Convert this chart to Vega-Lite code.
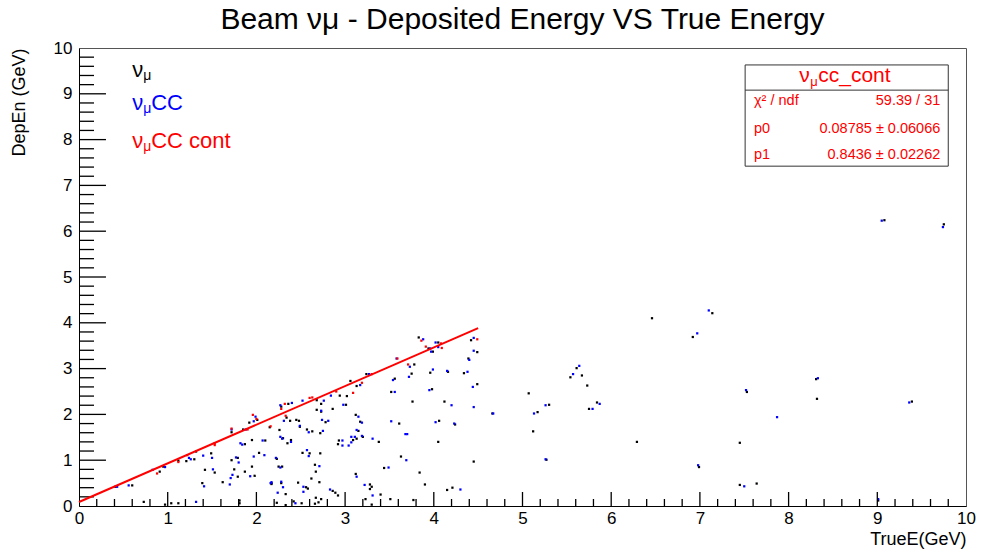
{
  "$schema": "https://vega.github.io/schema/vega-lite/v6.json",
  "width": 887,
  "height": 458,
  "autosize": "none",
  "padding": {"left": 79, "top": 48, "right": 18, "bottom": 46},
  "background": "white",
  "config": {
    "font": "Liberation Sans",
    "view": {"stroke": "#555", "strokeWidth": 1},
    "axis": {"grid": false, "zindex": 1, "labelFont": "Liberation Sans", "titleFont": "Liberation Sans", "titleFontWeight": "normal", "domainColor": "#000", "tickColor": "#000", "labelColor": "#000", "titleColor": "#000"}
  },
  "title": {"text": "Beam νμ - Deposited Energy VS True Energy", "fontSize": 30, "fontWeight": "normal", "font": "Liberation Sans", "anchor": "middle", "frame": "group", "offset": 4, "color": "#000"},
  "datasets": {
    "majt": [{"t":1},{"t":2},{"t":3},{"t":4},{"t":5},{"t":6},{"t":7},{"t":8},{"t":9}],
    "mint": [{"t":0.2},{"t":0.4},{"t":0.6},{"t":0.8},{"t":1.2},{"t":1.4},{"t":1.6},{"t":1.8},{"t":2.2},{"t":2.4},{"t":2.6},{"t":2.8},{"t":3.2},{"t":3.4},{"t":3.6},{"t":3.8},{"t":4.2},{"t":4.4},{"t":4.6},{"t":4.8},{"t":5.2},{"t":5.4},{"t":5.6},{"t":5.8},{"t":6.2},{"t":6.4},{"t":6.6},{"t":6.8},{"t":7.2},{"t":7.4},{"t":7.6},{"t":7.8},{"t":8.2},{"t":8.4},{"t":8.6},{"t":8.8},{"t":9.2},{"t":9.4},{"t":9.6},{"t":9.8}],
    "pts": [
      {"x":4.66,"y":2.02,"s":"νμ"},{"x":5.07,"y":2.46,"s":"νμ"},{"x":5.12,"y":1.63,"s":"νμ"},{"x":5.17,"y":2.05,"s":"νμ"},{"x":5.30,"y":2.21,"s":"νμ"},{"x":5.27,"y":1.01,"s":"νμ"},{"x":5.54,"y":2.81,"s":"νμ"},{"x":5.61,"y":3.01,"s":"νμ"},{"x":5.67,"y":2.85,"s":"νμ"},{"x":5.73,"y":2.63,"s":"νμ"},{"x":5.75,"y":2.12,"s":"νμ"},{"x":5.84,"y":2.26,"s":"νμ"},{"x":6.29,"y":1.40,"s":"νμ"},{"x":6.46,"y":4.10,"s":"νμ"},{"x":6.92,"y":3.69,"s":"νμ"},{"x":7.14,"y":4.21,"s":"νμ"},{"x":6.99,"y":0.85,"s":"νμ"},{"x":9.08,"y":6.24,"s":"νμ"},{"x":9.75,"y":6.15,"s":"νμ"},{"x":7.53,"y":2.49,"s":"νμ"},{"x":8.31,"y":2.77,"s":"νμ"},{"x":8.32,"y":2.34,"s":"νμ"},{"x":9.39,"y":2.28,"s":"νμ"},{"x":7.45,"y":1.38,"s":"νμ"},{"x":7.45,"y":0.46,"s":"νμ"},{"x":7.64,"y":0.49,"s":"νμ"},{"x":9.01,"y":0.12,"s":"νμ"},
      {"x":0.41,"y":0.42,"s":"νμ"},{"x":0.60,"y":0.45,"s":"νμ"},{"x":0.73,"y":0.09,"s":"νμ"},{"x":0.91,"y":0.75,"s":"νμ"},{"x":0.95,"y":0.86,"s":"νμ"},{"x":0.97,"y":0.03,"s":"νμ"},{"x":1.04,"y":0.06,"s":"νμ"},{"x":1.12,"y":0.06,"s":"νμ"},{"x":1.12,"y":0.99,"s":"νμ"},{"x":1.21,"y":0.98,"s":"νμ"},{"x":1.30,"y":1.02,"s":"νμ"},{"x":1.32,"y":1.19,"s":"νμ"},{"x":1.42,"y":0.79,"s":"νμ"},{"x":1.39,"y":0.50,"s":"νμ"},{"x":1.49,"y":1.15,"s":"νμ"},{"x":1.53,"y":0.73,"s":"νμ"},{"x":1.62,"y":0.52,"s":"νμ"},{"x":1.72,"y":1.61,"s":"νμ"},{"x":1.79,"y":1.05,"s":"νμ"},{"x":1.72,"y":1.00,"s":"νμ"},{"x":1.75,"y":0.80,"s":"νμ"},{"x":1.79,"y":0.64,"s":"νμ"},{"x":1.87,"y":1.35,"s":"νμ"},{"x":1.87,"y":0.75,"s":"νμ"},{"x":1.85,"y":1.67,"s":"νμ"},{"x":1.95,"y":1.44,"s":"νμ"},{"x":1.95,"y":0.86,"s":"νμ"},{"x":1.98,"y":0.66,"s":"νμ"},{"x":1.92,"y":1.82,"s":"νμ"},{"x":2.01,"y":1.88,"s":"νμ"},{"x":1.81,"y":0.06,"s":"νμ"},{"x":1.81,"y":0.12,"s":"νμ"},{"x":2.03,"y":1.16,"s":"νμ"},{"x":2.10,"y":1.43,"s":"νμ"},{"x":2.15,"y":1.72,"s":"νμ"},{"x":2.17,"y":0.48,"s":"νμ"},
      {"x":2.28,"y":2.17,"s":"νμ"},{"x":2.36,"y":2.23,"s":"νμ"},{"x":2.34,"y":1.93,"s":"νμ"},{"x":2.38,"y":1.86,"s":"νμ"},{"x":2.45,"y":1.88,"s":"νμ"},{"x":2.48,"y":1.86,"s":"νμ"},{"x":2.49,"y":1.73,"s":"νμ"},{"x":2.26,"y":1.66,"s":"νμ"},{"x":2.30,"y":1.48,"s":"νμ"},{"x":2.35,"y":1.37,"s":"νμ"},{"x":2.39,"y":1.44,"s":"νμ"},{"x":2.23,"y":1.03,"s":"νμ"},{"x":2.25,"y":0.86,"s":"νμ"},{"x":2.29,"y":0.86,"s":"νμ"},{"x":2.17,"y":0.50,"s":"νμ"},{"x":2.28,"y":0.50,"s":"νμ"},{"x":2.33,"y":0.26,"s":"νμ"},{"x":2.23,"y":0.07,"s":"νμ"},{"x":2.33,"y":0.02,"s":"νμ"},{"x":2.42,"y":0.10,"s":"νμ"},{"x":2.51,"y":0.06,"s":"νμ"},{"x":2.47,"y":0.51,"s":"νμ"},{"x":2.56,"y":0.41,"s":"νμ"},{"x":2.58,"y":0.38,"s":"νμ"},{"x":2.52,"y":1.16,"s":"νμ"},{"x":2.60,"y":1.15,"s":"νμ"},{"x":2.57,"y":1.67,"s":"νμ"},{"x":2.63,"y":1.63,"s":"νμ"},{"x":2.68,"y":2.31,"s":"νμ"},{"x":2.73,"y":2.23,"s":"νμ"},{"x":2.68,"y":2.10,"s":"νμ"},{"x":2.73,"y":2.06,"s":"νμ"},{"x":2.86,"y":2.12,"s":"νμ"},{"x":2.94,"y":2.41,"s":"νμ"},{"x":3.01,"y":2.21,"s":"νμ"},{"x":3.02,"y":2.40,"s":"νμ"},{"x":3.06,"y":2.73,"s":"νμ"},{"x":3.13,"y":2.62,"s":"νμ"},{"x":2.78,"y":1.83,"s":"νμ"},{"x":2.72,"y":1.59,"s":"νμ"},{"x":2.66,"y":0.90,"s":"νμ"},{"x":2.71,"y":0.52,"s":"νμ"},{"x":2.72,"y":1.15,"s":"νμ"},{"x":2.67,"y":0.75,"s":"νμ"},{"x":2.62,"y":0.60,"s":"νμ"},{"x":2.67,"y":0.18,"s":"νμ"},{"x":2.66,"y":0.05,"s":"νμ"},{"x":2.70,"y":0.08,"s":"νμ"},{"x":2.73,"y":0.15,"s":"νμ"},{"x":2.86,"y":0.33,"s":"νμ"},{"x":2.89,"y":0.29,"s":"νμ"},{"x":2.92,"y":0.23,"s":"νμ"},{"x":2.93,"y":1.43,"s":"νμ"},{"x":2.92,"y":1.35,"s":"νμ"},{"x":3.09,"y":1.44,"s":"νμ"},{"x":3.13,"y":1.47,"s":"νμ"},{"x":3.20,"y":1.51,"s":"νμ"},{"x":3.15,"y":1.64,"s":"νμ"},{"x":3.12,"y":1.99,"s":"νμ"},{"x":3.17,"y":1.84,"s":"νμ"},{"x":3.12,"y":0.70,"s":"νμ"},{"x":3.28,"y":0.47,"s":"νμ"},{"x":3.30,"y":0.42,"s":"νμ"},{"x":3.28,"y":0.37,"s":"νμ"},{"x":3.23,"y":0.15,"s":"νμ"},{"x":3.30,"y":0.03,"s":"νμ"},{"x":3.24,"y":2.88,"s":"νμ"},{"x":3.38,"y":1.40,"s":"νμ"},{"x":3.40,"y":0.25,"s":"νμ"},{"x":3.44,"y":0.83,"s":"νμ"},{"x":3.51,"y":0.15,"s":"νμ"},{"x":3.52,"y":2.49,"s":"νμ"},{"x":3.61,"y":1.80,"s":"νμ"},{"x":3.56,"y":2.78,"s":"νμ"},{"x":3.63,"y":1.08,"s":"νμ"},{"x":3.78,"y":3.09,"s":"νμ"},{"x":3.75,"y":2.89,"s":"νμ"},{"x":3.76,"y":2.28,"s":"νμ"},{"x":3.77,"y":0.13,"s":"νμ"},{"x":3.83,"y":3.68,"s":"νμ"},{"x":3.84,"y":0.73,"s":"νμ"},{"x":3.90,"y":0.47,"s":"νμ"},{"x":3.94,"y":3.44,"s":"νμ"},{"x":3.99,"y":3.37,"s":"νμ"},{"x":4.05,"y":3.57,"s":"νμ"},{"x":3.98,"y":2.55,"s":"νμ"},{"x":3.96,"y":2.91,"s":"νμ"},{"x":4.06,"y":1.86,"s":"νμ"},{"x":4.05,"y":1.40,"s":"νμ"},{"x":4.12,"y":2.28,"s":"νμ"},{"x":4.24,"y":1.78,"s":"νμ"},{"x":4.16,"y":2.93,"s":"νμ"},{"x":4.15,"y":0.35,"s":"νμ"},{"x":4.21,"y":0.40,"s":"νμ"},{"x":4.34,"y":2.90,"s":"νμ"},{"x":4.39,"y":3.22,"s":"νμ"},{"x":4.42,"y":3.62,"s":"νμ"},{"x":4.49,"y":3.36,"s":"νμ"},{"x":4.49,"y":2.66,"s":"νμ"},{"x":4.45,"y":0.97,"s":"νμ"},
      {"x":4.67,"y":2.02,"s":"νμCC"},{"x":5.13,"y":2.02,"s":"νμCC"},{"x":5.26,"y":2.20,"s":"νμCC"},{"x":5.26,"y":1.02,"s":"νμCC"},{"x":5.57,"y":2.88,"s":"νμCC"},{"x":5.64,"y":3.06,"s":"νμCC"},{"x":5.79,"y":2.12,"s":"νμCC"},{"x":5.87,"y":2.23,"s":"νμCC"},{"x":6.97,"y":3.77,"s":"νμCC"},{"x":7.10,"y":4.27,"s":"νμCC"},{"x":6.98,"y":0.89,"s":"νμCC"},{"x":9.05,"y":6.23,"s":"νμCC"},{"x":9.74,"y":6.09,"s":"νμCC"},{"x":7.52,"y":2.53,"s":"νμCC"},{"x":8.33,"y":2.79,"s":"νμCC"},{"x":7.87,"y":1.94,"s":"νμCC"},{"x":9.36,"y":2.26,"s":"νμCC"},{"x":7.50,"y":0.43,"s":"νμCC"},{"x":9.01,"y":0.15,"s":"νμCC"},
      {"x":0.43,"y":0.42,"s":"νμCC"},{"x":0.56,"y":0.45,"s":"νμCC"},{"x":0.83,"y":0.79,"s":"νμCC"},{"x":0.97,"y":0.85,"s":"νμCC"},{"x":1.26,"y":1.02,"s":"νμCC"},{"x":1.40,"y":1.10,"s":"νμCC"},{"x":1.41,"y":0.43,"s":"νμCC"},{"x":1.50,"y":1.05,"s":"νμCC"},{"x":1.51,"y":0.80,"s":"νμCC"},{"x":1.70,"y":0.47,"s":"νμCC"},{"x":1.72,"y":1.67,"s":"νμCC"},{"x":1.77,"y":1.06,"s":"νμCC"},{"x":1.80,"y":0.95,"s":"νμCC"},{"x":1.73,"y":0.68,"s":"νμCC"},{"x":1.71,"y":0.61,"s":"νμCC"},{"x":1.82,"y":1.37,"s":"νμCC"},{"x":1.84,"y":1.34,"s":"νμCC"},{"x":1.88,"y":1.67,"s":"νμCC"},{"x":1.97,"y":1.08,"s":"νμCC"},{"x":1.93,"y":0.65,"s":"νμCC"},{"x":1.97,"y":1.85,"s":"νμCC"},{"x":1.99,"y":1.95,"s":"νμCC"},{"x":2.09,"y":1.11,"s":"νμCC"},{"x":2.07,"y":1.43,"s":"νμCC"},{"x":2.16,"y":0.50,"s":"νμCC"},{"x":1.32,"y":0.09,"s":"νμCC"},{"x":1.24,"y":1.05,"s":"νμCC"},
      {"x":2.27,"y":2.20,"s":"νμCC"},{"x":2.31,"y":1.86,"s":"νμCC"},{"x":2.40,"y":2.25,"s":"νμCC"},{"x":2.52,"y":2.30,"s":"νμCC"},{"x":2.49,"y":1.75,"s":"νμCC"},{"x":2.27,"y":1.51,"s":"νμCC"},{"x":2.29,"y":1.47,"s":"νμCC"},{"x":2.39,"y":1.40,"s":"νμCC"},{"x":2.22,"y":1.05,"s":"νμCC"},{"x":2.27,"y":0.84,"s":"νμCC"},{"x":2.17,"y":0.52,"s":"νμCC"},{"x":2.28,"y":0.53,"s":"νμCC"},{"x":2.30,"y":0.41,"s":"νμCC"},{"x":2.24,"y":0.29,"s":"νμCC"},{"x":2.44,"y":0.06,"s":"νμCC"},{"x":2.53,"y":0.42,"s":"νμCC"},{"x":2.53,"y":0.31,"s":"νμCC"},{"x":2.57,"y":1.22,"s":"νμCC"},{"x":2.59,"y":1.09,"s":"νμCC"},{"x":2.59,"y":1.61,"s":"νμCC"},{"x":2.76,"y":2.30,"s":"νμCC"},{"x":2.73,"y":2.08,"s":"νμCC"},{"x":2.74,"y":1.88,"s":"νμCC"},{"x":2.81,"y":1.86,"s":"νμCC"},{"x":2.75,"y":1.64,"s":"νμCC"},{"x":2.71,"y":0.87,"s":"νμCC"},{"x":2.83,"y":0.36,"s":"νμCC"},{"x":2.84,"y":2.41,"s":"νμCC"},{"x":2.98,"y":2.21,"s":"νμCC"},{"x":2.97,"y":1.43,"s":"νμCC"},{"x":2.97,"y":1.32,"s":"νμCC"},{"x":3.04,"y":1.32,"s":"νμCC"},{"x":3.07,"y":1.39,"s":"νμCC"},{"x":3.07,"y":1.51,"s":"νμCC"},{"x":3.11,"y":1.51,"s":"νμCC"},{"x":3.19,"y":1.53,"s":"νμCC"},{"x":3.13,"y":1.66,"s":"νμCC"},{"x":3.15,"y":1.95,"s":"νμCC"},{"x":3.19,"y":1.82,"s":"νμCC"},{"x":3.13,"y":0.64,"s":"νμCC"},{"x":3.22,"y":0.46,"s":"νμCC"},{"x":3.31,"y":0.23,"s":"νμCC"},{"x":3.17,"y":2.64,"s":"νμCC"},{"x":3.27,"y":2.88,"s":"νμCC"},{"x":3.31,"y":1.47,"s":"νμCC"},{"x":3.49,"y":0.84,"s":"νμCC"},{"x":3.56,"y":2.49,"s":"νμCC"},{"x":3.52,"y":1.85,"s":"νμCC"},{"x":3.54,"y":2.75,"s":"νμCC"},{"x":3.58,"y":3.22,"s":"νμCC"},{"x":3.69,"y":1.00,"s":"νμCC"},{"x":3.68,"y":1.57,"s":"νμCC"},{"x":3.70,"y":1.57,"s":"νμCC"},{"x":3.73,"y":3.04,"s":"νμCC"},{"x":3.72,"y":2.82,"s":"νμCC"},{"x":3.88,"y":3.64,"s":"νμCC"},{"x":3.96,"y":3.44,"s":"νμCC"},{"x":3.97,"y":3.37,"s":"νμCC"},{"x":4.02,"y":3.57,"s":"νμCC"},{"x":4.05,"y":3.47,"s":"νμCC"},{"x":3.95,"y":2.53,"s":"νμCC"},{"x":3.99,"y":2.98,"s":"νμCC"},{"x":4.02,"y":1.83,"s":"νμCC"},{"x":4.20,"y":2.20,"s":"νμCC"},{"x":4.23,"y":1.80,"s":"νμCC"},{"x":4.15,"y":2.95,"s":"νμCC"},{"x":4.30,"y":0.36,"s":"νμCC"},{"x":4.38,"y":2.93,"s":"νμCC"},{"x":4.40,"y":3.19,"s":"νμCC"},{"x":4.45,"y":3.67,"s":"νμCC"},{"x":4.45,"y":3.39,"s":"νμCC"},{"x":4.44,"y":2.60,"s":"νμCC"},{"x":4.45,"y":2.16,"s":"νμCC"},
      {"x":0.88,"y":0.71,"s":"νμCC cont"},{"x":1.12,"y":0.96,"s":"νμCC cont"},{"x":1.22,"y":1.11,"s":"νμCC cont"},{"x":1.53,"y":1.37,"s":"νμCC cont"},{"x":1.53,"y":1.33,"s":"νμCC cont"},{"x":1.72,"y":1.69,"s":"νμCC cont"},{"x":1.90,"y":1.67,"s":"νμCC cont"},{"x":1.96,"y":1.99,"s":"νμCC cont"},{"x":2.00,"y":1.90,"s":"νμCC cont"},{"x":2.16,"y":1.74,"s":"νμCC cont"},{"x":2.28,"y":2.12,"s":"νμCC cont"},{"x":2.32,"y":2.23,"s":"νμCC cont"},{"x":2.33,"y":1.97,"s":"νμCC cont"},{"x":2.60,"y":2.36,"s":"νμCC cont"},{"x":2.63,"y":2.37,"s":"νμCC cont"},{"x":2.90,"y":2.50,"s":"νμCC cont"},{"x":3.09,"y":2.47,"s":"νμCC cont"},{"x":3.19,"y":2.69,"s":"νμCC cont"},{"x":3.30,"y":2.88,"s":"νμCC cont"},{"x":3.59,"y":3.22,"s":"νμCC cont"},{"x":3.71,"y":3.09,"s":"νμCC cont"},{"x":3.86,"y":3.61,"s":"νμCC cont"},{"x":3.91,"y":3.48,"s":"νμCC cont"},{"x":4.09,"y":3.45,"s":"νμCC cont"},{"x":4.08,"y":3.55,"s":"νμCC cont"},{"x":4.49,"y":3.64,"s":"νμCC cont"}
    ],
    "fit": [{"x": 0, "y": 0.0879}, {"x": 4.5, "y": 3.884}],
    "leg": [
      {"x": 0.6, "y": 9.52, "a": "ν", "b": "μ", "c": "", "s": "νμ"},
      {"x": 0.6, "y": 8.80, "a": "ν", "b": "μ", "c": "CC", "s": "νμCC"},
      {"x": 0.6, "y": 7.97, "a": "ν", "b": "μ", "c": "CC cont", "s": "νμCC cont"}
    ],
    "box": [{"x": 7.51, "x2": 9.80, "y": 7.42, "y2": 9.63}],
    "sep": [{"x": 7.51, "x2": 9.80, "y": 9.08}],
    "boxtitle": [{"x": 8.12, "y": 9.39, "a": "ν", "b": "μ", "c": "cc_cont"}],
    "stats": [
      {"lx": 7.61, "rx": 9.71, "y": 8.84, "l": "χ² / ndf", "r": "59.39 / 31"},
      {"lx": 7.61, "rx": 9.71, "y": 8.23, "l": "p0", "r": "0.08785 ± 0.06066"},
      {"lx": 7.61, "rx": 9.71, "y": 7.66, "l": "p1", "r": "0.8436 ± 0.02262"}
    ]
  },
  "layer": [
    {
      "data": {"name": "pts"},
      "mark": {"type": "square", "size": 5, "opacity": 1},
      "encoding": {
        "x": {"field": "x", "type": "quantitative", "scale": {"domain": [0, 10], "nice": false, "zero": false},
          "axis": {"orient": "bottom", "values": [0,1,2,3,4,5,6,7,8,9,10], "format": "d", "ticks": false, "labelFontSize": 17, "labelPadding": 4, "labelFlush": false, "labelOverlap": false, "title": "TrueE(GeV)", "titleAnchor": "end", "titleFontSize": 18, "titlePadding": 4}},
        "y": {"field": "y", "type": "quantitative", "scale": {"domain": [0, 10], "nice": false, "zero": false},
          "axis": {"orient": "left", "values": [0,1,2,3,4,5,6,7,8,9,10], "format": "d", "ticks": false, "labelFontSize": 17, "labelPadding": 7, "labelFlush": false, "labelOverlap": false, "title": "DepEn (GeV)", "titleAnchor": "end", "titleFontSize": 18, "titlePadding": 25}},
        "color": {"field": "s", "type": "nominal", "scale": {"domain": ["νμ", "νμCC", "νμCC cont"], "range": ["#000000", "#0000ff", "#ff0000"]}, "legend": null}
      }
    },
    {
      "data": {"name": "majt"},
      "mark": {"type": "rule", "stroke": "#000", "strokeWidth": 1.3},
      "encoding": {"x": {"field": "t", "type": "quantitative"}, "y": {"datum": 0, "type": "quantitative"}, "y2": {"datum": 0.306}}
    },
    {
      "data": {"name": "mint"},
      "mark": {"type": "rule", "stroke": "#000", "strokeWidth": 1.3},
      "encoding": {"x": {"field": "t", "type": "quantitative"}, "y": {"datum": 0, "type": "quantitative"}, "y2": {"datum": 0.153}}
    },
    {
      "data": {"name": "majt"},
      "mark": {"type": "rule", "stroke": "#000", "strokeWidth": 1.3},
      "encoding": {"y": {"field": "t", "type": "quantitative"}, "x": {"datum": 0, "type": "quantitative"}, "x2": {"datum": 0.304}}
    },
    {
      "data": {"name": "mint"},
      "mark": {"type": "rule", "stroke": "#000", "strokeWidth": 1.3},
      "encoding": {"y": {"field": "t", "type": "quantitative"}, "x": {"datum": 0, "type": "quantitative"}, "x2": {"datum": 0.169}}
    },
    {
      "data": {"name": "fit"},
      "mark": {"type": "line", "color": "#ff0000", "strokeWidth": 2},
      "encoding": {
        "x": {"field": "x", "type": "quantitative"},
        "y": {"field": "y", "type": "quantitative"}
      }
    },
    {
      "data": {"name": "leg"},
      "mark": {"type": "text", "align": "left", "baseline": "middle", "fontSize": 22, "font": "Liberation Sans"},
      "encoding": {
        "x": {"field": "x", "type": "quantitative"},
        "y": {"field": "y", "type": "quantitative"},
        "text": {"field": "a"},
        "color": {"field": "s", "type": "nominal", "legend": null}
      }
    },
    {
      "data": {"name": "leg"},
      "mark": {"type": "text", "align": "left", "baseline": "middle", "fontSize": 14, "dx": 11, "dy": 6, "font": "Liberation Sans"},
      "encoding": {
        "x": {"field": "x", "type": "quantitative"},
        "y": {"field": "y", "type": "quantitative"},
        "text": {"field": "b"},
        "color": {"field": "s", "type": "nominal", "legend": null}
      }
    },
    {
      "data": {"name": "leg"},
      "mark": {"type": "text", "align": "left", "baseline": "middle", "fontSize": 22, "dx": 19, "font": "Liberation Sans"},
      "encoding": {
        "x": {"field": "x", "type": "quantitative"},
        "y": {"field": "y", "type": "quantitative"},
        "text": {"field": "c"},
        "color": {"field": "s", "type": "nominal", "legend": null}
      }
    },
    {
      "data": {"name": "box"},
      "mark": {"type": "rect", "fill": "white", "stroke": "#333", "strokeWidth": 1},
      "encoding": {
        "x": {"field": "x", "type": "quantitative"},
        "x2": {"field": "x2"},
        "y": {"field": "y", "type": "quantitative"},
        "y2": {"field": "y2"}
      }
    },
    {
      "data": {"name": "sep"},
      "mark": {"type": "rule", "stroke": "#333", "strokeWidth": 1},
      "encoding": {
        "x": {"field": "x", "type": "quantitative"},
        "x2": {"field": "x2"},
        "y": {"field": "y", "type": "quantitative"}
      }
    },
    {
      "data": {"name": "boxtitle"},
      "mark": {"type": "text", "align": "left", "baseline": "middle", "fontSize": 21, "color": "#ff0000", "font": "Liberation Sans"},
      "encoding": {
        "x": {"field": "x", "type": "quantitative"},
        "y": {"field": "y", "type": "quantitative"},
        "text": {"field": "a"}
      }
    },
    {
      "data": {"name": "boxtitle"},
      "mark": {"type": "text", "align": "left", "baseline": "middle", "fontSize": 13, "dx": 11, "dy": 6, "color": "#ff0000", "font": "Liberation Sans"},
      "encoding": {
        "x": {"field": "x", "type": "quantitative"},
        "y": {"field": "y", "type": "quantitative"},
        "text": {"field": "b"}
      }
    },
    {
      "data": {"name": "boxtitle"},
      "mark": {"type": "text", "align": "left", "baseline": "middle", "fontSize": 21, "dx": 19, "color": "#ff0000", "font": "Liberation Sans"},
      "encoding": {
        "x": {"field": "x", "type": "quantitative"},
        "y": {"field": "y", "type": "quantitative"},
        "text": {"field": "c"}
      }
    },
    {
      "data": {"name": "stats"},
      "mark": {"type": "text", "align": "left", "baseline": "middle", "fontSize": 14.5, "color": "#ff0000", "font": "Liberation Sans"},
      "encoding": {
        "x": {"field": "lx", "type": "quantitative"},
        "y": {"field": "y", "type": "quantitative"},
        "text": {"field": "l"}
      }
    },
    {
      "data": {"name": "stats"},
      "mark": {"type": "text", "align": "right", "baseline": "middle", "fontSize": 14.5, "color": "#ff0000", "font": "Liberation Sans"},
      "encoding": {
        "x": {"field": "rx", "type": "quantitative"},
        "y": {"field": "y", "type": "quantitative"},
        "text": {"field": "r"}
      }
    }
  ]
}
